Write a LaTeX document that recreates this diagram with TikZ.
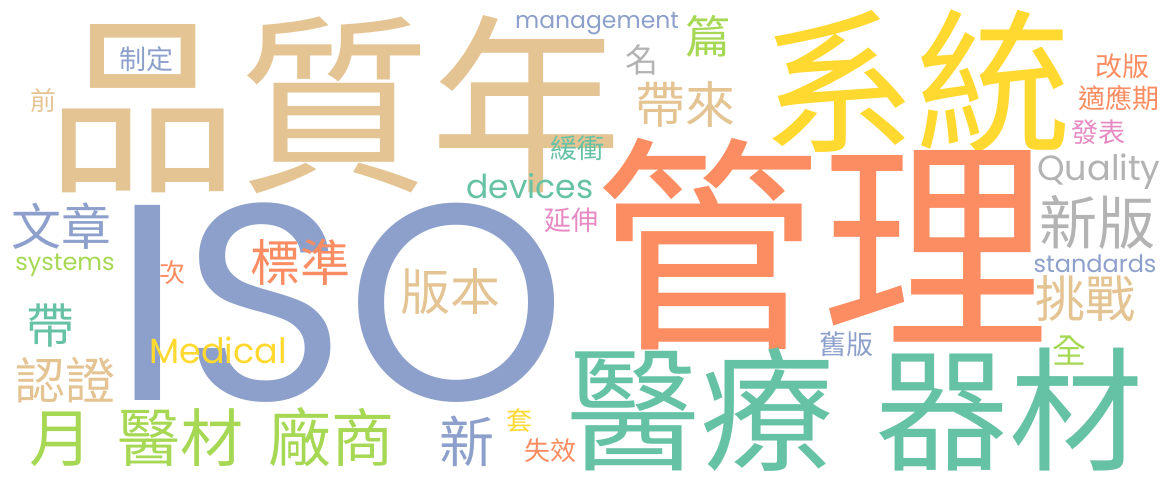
\documentclass[tikz,border=0pt]{standalone}
\usepackage{fontspec}
\setmainfont{Noto Sans CJK TC}
\newfontfamily\latfont{Poppins}
\definecolor{ctan}{HTML}{E5C494}
\definecolor{cblue}{HTML}{8DA0CB}
\definecolor{corange}{HTML}{FC8D62}
\definecolor{cyellow}{HTML}{FFD92F}
\definecolor{cgreen}{HTML}{A6D854}
\definecolor{cteal}{HTML}{66C2A5}
\definecolor{cgray}{HTML}{B3B3B3}
\definecolor{cpink}{HTML}{E78AC3}
\newcommand{\wcfs}[1]{\fontsize{#1}{#1}\selectfont}
\tikzset{
  wd/.style={inner sep=0pt, outer sep=0pt, anchor=center},
  lt/.style={wd, font=\latfont}
}
\begin{document}
\begin{tikzpicture}[x=1pt,y=-1pt]
\useasboundingbox[fill=white] (0,0) rectangle (1175,482);
% big words
\node[wd, text=ctan] (pzn) at (334,105) {\wcfs{192}品質年};
\node[wd, text=cyellow] (xt) at (916,82) {\wcfs{155}系統};
\node[lt, text=cblue] (iso) at (340,303) {\wcfs{280}ISO};
\node[wd, text=corange] (gl) at (821,244) {\wcfs{228}管理};
\node[wd, text=cteal] (ylqc) at (855,410) {\wcfs{134}醫療\hspace{0.3em}器材};
\node[wd, text=cgreen] (ycs) at (212,437) {\wcfs{63}月\hspace{0.4em}醫材\hspace{0.4em}廠商};
% medium words
\node[wd, text=ctan] (bb) at (450,292) {\wcfs{50}版本};
\node[wd, text=cblue] (xin) at (467,441) {\wcfs{55}新};
\node[wd, text=corange] (bz) at (300,262) {\wcfs{50}標準};
\node[wd, text=cteal] (dai) at (50,325) {\wcfs{48}帶};
\node[wd, text=ctan] (rz) at (65,380) {\wcfs{50}認證};
\node[wd, text=cblue] (wz) at (62,226) {\wcfs{50}文章};
\node[wd, text=cgreen] (pian) at (708,36) {\wcfs{45}篇};
\node[wd, text=ctan] (dl) at (685,105) {\wcfs{50}帶來};
\node[wd, text=cgray] (xb) at (1097,222) {\wcfs{58}新版};
\node[wd, text=ctan] (tz) at (1085,299) {\wcfs{50}挑戰};
\node[wd, text=cgray] (ming) at (642,60) {\wcfs{33}名};
\node[wd, text=cgreen] (quan) at (1069,351) {\wcfs{34}全};
% latin words
\node[lt, text=cyellow] (med) at (218,350) {\wcfs{35}Medical};
\node[lt, text=cgreen] (sys) at (65,265) {\wcfs{24}systems};
\node[lt, text=cblue] (mgmt) at (597,24) {\wcfs{23.5}management};
\node[lt, text=cteal] (dev) at (530,186) {\wcfs{33}devices};
\node[lt, text=cgray] (qual) at (1099,172) {\wcfs{35}Quality};
\node[lt, text=cblue] (std) at (1095,264) {\wcfs{24}standards};
% small words
\node[wd, text=corange] (ci) at (172,273) {\wcfs{26}次};
\node[wd, text=cblue] (zd) at (146,59) {\wcfs{27}制定};
\node[wd, text=ctan] (qian) at (43,101) {\wcfs{26}前};
\node[wd, text=cteal] (hc) at (577,148) {\wcfs{27}緩衝};
\node[wd, text=cpink] (ys) at (571,220) {\wcfs{27}延伸};
\node[wd, text=corange] (gb) at (1122,66) {\wcfs{27}改版};
\node[wd, text=corange] (syq) at (1119,98) {\wcfs{27}適應期};
\node[wd, text=cpink] (fb) at (1098,132) {\wcfs{27}發表};
\node[wd, text=cblue] (jb) at (846,344) {\wcfs{27}舊版};
\node[wd, text=cyellow] (tao) at (519,421) {\wcfs{26}套};
\node[wd, text=corange] (sx) at (550,451) {\wcfs{26}失效};
\end{tikzpicture}
\end{document}
